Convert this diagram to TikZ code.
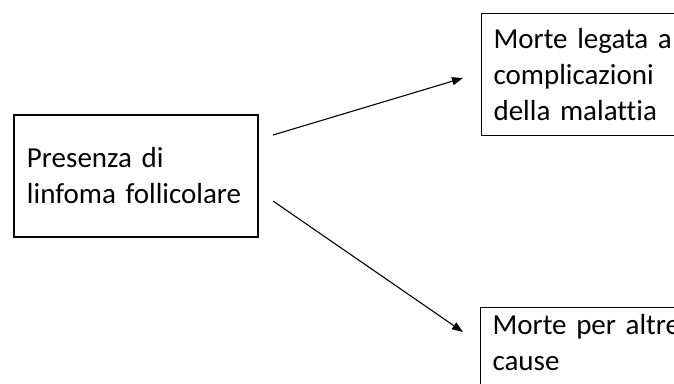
\documentclass[tikz,border=0pt]{standalone}
\usepackage{fontspec}
\setmainfont{Carlito}[Ligatures=NoCommon]
\usetikzlibrary{arrows.meta}

\begin{document}
\begin{tikzpicture}[x=1pt,y=-1pt]
\tikzstyle{casella}=[rectangle,draw=black,line width=1.1pt,align=left,inner xsep=12pt,font=\fontsize{29}{36}\selectfont]
\tikzstyle{freccia}=[line width=1.1pt,-{Triangle[length=11pt,width=8pt]}]
\useasboundingbox[fill=white] (0,0) rectangle (674,383);
\clip (0,0) rectangle (674,383);
\node [casella,minimum width=244pt,minimum height=122pt,text width=218pt] (pres) at (136,176) {Presenza di\\linfoma follicolare};
\node [casella,anchor=north west,minimum height=122pt,text width=200pt] (malattia) at (481,13) {Morte legata a\\complicazioni\\della malattia};
\node [casella,anchor=north west,inner ysep=7pt,text width=200pt] (altre) at (480,307) {Morte per altre\\cause\\[20pt]\mbox{}};
\coordinate (p1) at (273,135);
\coordinate (p2) at (273,201);
\coordinate (m1) at (463,78);
\coordinate (a1) at (463,332);
\draw [freccia] (p1) -- (m1);
\draw [freccia] (p2) -- (a1);
\end{tikzpicture}
\end{document}
